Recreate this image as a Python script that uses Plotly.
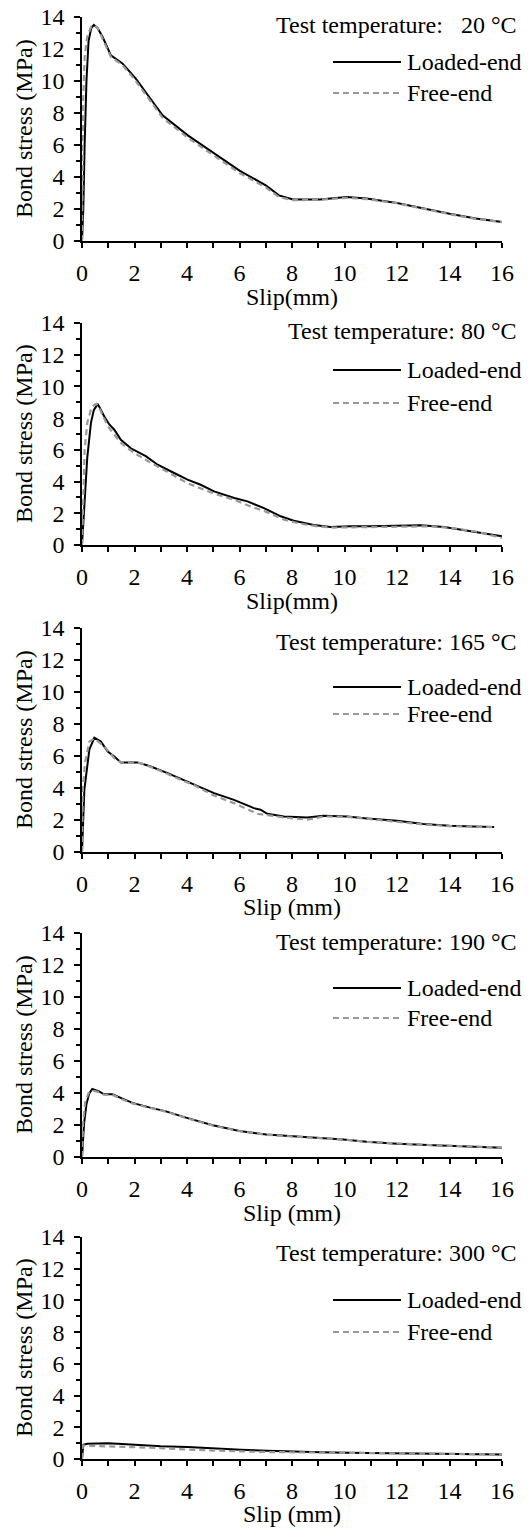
import plotly.graph_objects as go

# ---------------- data ----------------
temps = ["20", "80", "165", "190", "300"]
title_text = ["Test temperature:\u00a0\u00a0 20 °C", "Test temperature: 80 °C",
              "Test temperature: 165 °C", "Test temperature: 190 °C",
              "Test temperature: 300 °C"]
xtitles = ["Slip(mm)", "Slip(mm)", "Slip (mm)", "Slip (mm)", "Slip (mm)"]
ytitle = "Bond stress (MPa)"

# 20 °C
l20_x = [0, 0.05, 0.1, 0.17, 0.25, 0.35, 0.45, 0.6, 0.8, 1.1, 1.54, 2.05, 2.56, 3.07, 4.03, 4.98, 6.0, 7.0, 7.5, 8.04, 9.06, 10.08, 10.84, 12, 13, 14, 15, 16]
l20_y = [0, 2, 6, 10, 12.5, 13.3, 13.5, 13.3, 12.7, 11.6, 11.1, 10.15, 9.0, 7.85, 6.6, 5.56, 4.4, 3.48, 2.85, 2.6, 2.6, 2.75, 2.65, 2.38, 2.02, 1.7, 1.4, 1.19]
f20_x = [0, 0.02, 0.05, 0.1, 0.2, 0.35, 0.45, 0.6, 0.8, 1.1, 1.54, 2.05, 2.56, 3.07, 4.03, 4.98, 6.0, 7.0, 7.5, 8.04, 9.06, 10.08, 10.84, 12, 13, 14, 15, 16]
f20_y = [0, 4, 9, 11.5, 12.8, 13.4, 13.5, 13.3, 12.6, 11.5, 11.0, 10.0, 8.85, 7.7, 6.45, 5.4, 4.25, 3.35, 2.75, 2.55, 2.58, 2.7, 2.62, 2.36, 2.0, 1.68, 1.38, 1.18]

# 80 °C
l80_x = [0, 0.1, 0.2, 0.34, 0.45, 0.6, 0.85, 1.04, 1.23, 1.48, 1.86, 2.43, 2.88, 3.51, 4.02, 4.52, 5.03, 5.8, 6.3, 6.93, 7.57, 8.07, 8.83, 9.47, 10.23, 11, 12, 12.9, 13.8, 14.9, 16]
l80_y = [0, 3.0, 5.5, 7.7, 8.5, 8.9, 8.1, 7.6, 7.27, 6.64, 6.1, 5.6, 5.06, 4.54, 4.12, 3.8, 3.38, 2.96, 2.75, 2.33, 1.81, 1.53, 1.26, 1.13, 1.18, 1.18, 1.22, 1.24, 1.13, 0.86, 0.55]
f80_x = [0, 0.05, 0.1, 0.2, 0.35, 0.47, 0.55, 0.7, 0.98, 1.48, 2.0, 2.5, 3.0, 3.5, 4.02, 5.0, 5.8, 6.4, 7.0, 7.7, 8.3, 8.96, 9.6, 10.5, 11.5, 12.5, 13.3, 14.2, 15.0, 16]
f80_y = [0, 3.5, 6.0, 7.7, 8.6, 8.85, 8.9, 8.5, 7.5, 6.43, 5.8, 5.3, 4.85, 4.35, 3.9, 3.25, 2.85, 2.45, 2.1, 1.6, 1.35, 1.18, 1.1, 1.12, 1.13, 1.17, 1.18, 1.05, 0.85, 0.45]

# 165 °C
l165_x = [0, 0.09, 0.28, 0.47, 0.72, 0.98, 1.23, 1.48, 2.12, 2.62, 3.26, 4.02, 5.03, 5.79, 6.55, 6.8, 7.06, 7.69, 8.58, 9.2, 10.1, 10.86, 12, 13, 14, 14.9, 15.7]
l165_y = [0, 3.9, 6.4, 7.15, 6.9, 6.28, 5.97, 5.6, 5.6, 5.34, 4.93, 4.4, 3.68, 3.26, 2.74, 2.64, 2.39, 2.22, 2.16, 2.27, 2.22, 2.1, 1.95, 1.75, 1.64, 1.6, 1.56]
f165_x = [0, 0.03, 0.11, 0.28, 0.47, 0.85, 1.23, 1.48, 2.24, 2.8, 3.5, 4.3, 5.0, 5.79, 6.68, 7.69, 8.58, 9.2, 10.1, 11.0, 12.0, 13.0, 14.0, 14.9, 15.7]
f165_y = [0, 3.9, 5.55, 6.9, 7.1, 6.6, 5.86, 5.6, 5.55, 5.2, 4.7, 4.15, 3.55, 3.05, 2.39, 2.16, 2.02, 2.22, 2.2, 2.05, 1.9, 1.72, 1.62, 1.58, 1.55]

# 190 °C
l190_x = [0, 0.08, 0.17, 0.27, 0.39, 0.65, 0.84, 1.16, 1.54, 1.92, 2.56, 3.2, 3.96, 4.98, 6.0, 7.02, 8.04, 9.06, 9.95, 10.84, 12, 13.4, 14.66, 16]
l190_y = [0, 2.1, 3.3, 3.96, 4.25, 4.1, 3.92, 3.92, 3.65, 3.38, 3.1, 2.85, 2.46, 1.98, 1.63, 1.4, 1.29, 1.21, 1.1, 0.96, 0.83, 0.73, 0.67, 0.58]
f190_x = [0, 0.04, 0.12, 0.25, 0.4, 0.65, 0.84, 1.16, 1.54, 1.92, 2.56, 3.2, 3.96, 4.98, 6.0, 7.02, 8.04, 9.06, 9.95, 10.84, 12, 13.4, 14.66, 16]
f190_y = [0, 2.1, 3.4, 4.0, 4.15, 4.05, 3.9, 3.88, 3.6, 3.35, 3.08, 2.83, 2.44, 1.97, 1.62, 1.39, 1.28, 1.2, 1.09, 0.95, 0.83, 0.73, 0.67, 0.58]

# 300 °C
l300_x = [0, 0.05, 0.2, 0.98, 1.36, 2, 3, 4.02, 5.03, 6.05, 7.06, 8.07, 9.09, 10.1, 12.1, 14, 16]
l300_y = [0, 0.9, 0.96, 1.0, 0.96, 0.88, 0.8, 0.75, 0.69, 0.59, 0.52, 0.46, 0.42, 0.4, 0.36, 0.34, 0.29]
f300_x = [0, 0.03, 0.09, 0.98, 2, 3, 4.02, 5.03, 6.05, 7.06, 8.07, 9.09, 10.1, 12.1, 16]
f300_y = [0, 0.85, 0.84, 0.8, 0.75, 0.69, 0.59, 0.52, 0.48, 0.44, 0.42, 0.4, 0.38, 0.36, 0.29]

loaded = [(l20_x, l20_y), (l80_x, l80_y), (l165_x, l165_y), (l190_x, l190_y), (l300_x, l300_y)]
free = [(f20_x, f20_y), (f80_x, f80_y), (f165_x, f165_y), (f190_x, f190_y), (f300_x, f300_y)]

x_range = [0, 16]
y_range = [0, 14]

# ---------------- layout geometry (pixels) ----------------
W, H = 528, 1528
tops = [17, 323, 628, 933, 1237]
bottoms = [241, 545, 852, 1157, 1459]
left_px, right_px = 82, 502
title_off = [8, 8, 14, 9, 16]
leg1_off = [45, 47, 59, 55, 63]
leg2_off = [76, 80, 86, 85, 95]
xtitle_off = [56, 56, 55, 56, 55]

FONT = "Liberation Serif"
FS = 24
GRAY = "#999999"

fig = go.Figure()
layout = dict(template="none", width=W, height=H, margin=dict(l=0, r=0, t=0, b=0, pad=0),
              paper_bgcolor="white", plot_bgcolor="white", showlegend=False,
              font=dict(family=FONT, size=FS, color="black"))
annotations = []
shapes = []

for i in range(5):
    xa = "x" if i == 0 else f"x{i+1}"
    ya = "y" if i == 0 else f"y{i+1}"
    xkey = "xaxis" if i == 0 else f"xaxis{i+1}"
    ykey = "yaxis" if i == 0 else f"yaxis{i+1}"
    ydom = [1 - bottoms[i] / H, 1 - tops[i] / H]
    xdom = [left_px / W, right_px / W]
    layout[xkey] = dict(domain=xdom, anchor=ya, range=x_range, dtick=2, tick0=0,
                        automargin=False,
                        showgrid=False, zeroline=False, showline=True, linecolor="black",
                        linewidth=1.5, ticks="outside", ticklen=5, tickwidth=1.5,
                        tickcolor="black", ticklabelstandoff=4,
                        minor=dict(dtick=1, ticks="outside", ticklen=5, tickwidth=1.5,
                                   tickcolor="black", showgrid=False),
                        tickfont=dict(family=FONT, size=FS, color="black"))
    layout[ykey] = dict(domain=ydom, anchor=xa, range=y_range, dtick=2, tick0=0,
                        automargin=False,
                        showgrid=False, zeroline=False, showline=True, linecolor="black",
                        linewidth=1.5, ticks="outside", ticklen=6, tickwidth=1.5,
                        tickcolor="black", ticklabelstandoff=5,
                        minor=dict(dtick=1, ticks="outside", ticklen=4, tickwidth=1.5,
                                   tickcolor="black", showgrid=False),
                        tickfont=dict(family=FONT, size=FS, color="black"))
    fig.add_trace(go.Scatter(x=loaded[i][0], y=loaded[i][1], mode="lines", name="Loaded-end",
                             line=dict(color="black", width=2), xaxis=xa, yaxis=ya))
    fig.add_trace(go.Scatter(x=free[i][0], y=free[i][1], mode="lines", name="Free-end",
                             line=dict(color=GRAY, width=2.2, dash="6px,4px"), xaxis=xa, yaxis=ya))

    # axis titles
    annotations.append(dict(text=xtitles[i], xref="paper", yref="paper",
                            x=(left_px + right_px) / 2 / W, y=1 - (bottoms[i] + xtitle_off[i]) / H,
                            xanchor="center", yanchor="middle", showarrow=False,
                            font=dict(family=FONT, size=FS)))
    annotations.append(dict(text=ytitle, xref="paper", yref="paper", textangle=-90,
                            x=24 / W, y=1 - (tops[i] + bottoms[i]) / 2 / H,
                            xanchor="center", yanchor="middle", showarrow=False,
                            font=dict(family=FONT, size=FS)))
    # panel title
    annotations.append(dict(text=title_text[i], xref="paper", yref="paper",
                            x=519 / W, y=1 - (tops[i] + title_off[i]) / H,
                            xanchor="right", yanchor="middle", showarrow=False,
                            font=dict(family=FONT, size=FS)))
    # legend entries
    for off, label, col, dash in [(leg1_off[i], "Loaded-end", "black", "solid"),
                                  (leg2_off[i], "Free-end", GRAY, "6px,4px")]:
        yy = 1 - (tops[i] + off) / H
        shapes.append(dict(type="line", xref="paper", yref="paper",
                           x0=333 / W, x1=401 / W, y0=yy, y1=yy,
                           line=dict(color=col, width=2 if col == "black" else 2.2, dash=dash)))
        annotations.append(dict(text=label, xref="paper", yref="paper",
                                x=405 / W, y=yy, xanchor="left", yanchor="middle",
                                showarrow=False, font=dict(family=FONT, size=FS)))

layout["annotations"] = annotations
layout["shapes"] = shapes
fig.update_layout(**layout)
fig.write_html("out.html")
